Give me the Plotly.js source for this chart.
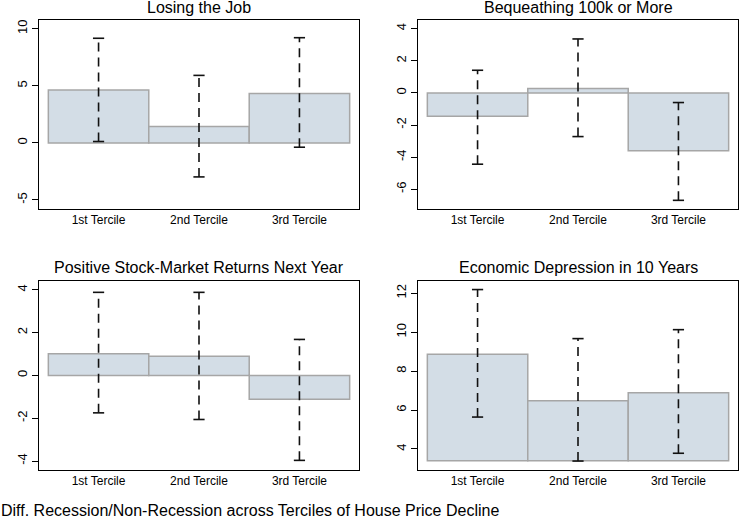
<!DOCTYPE html>
<html>
<head>
<meta charset="utf-8">
<script src="https://cdn.plot.ly/plotly-3.0.1.min.js"></script>
<style>html,body{margin:0;padding:0;background:#fff;}#chart{width:739px;height:520px;}</style>
</head>
<body>
<div id="chart"></div>
<script>
// ---- data ----
const categories = ['1st Tercile', '2nd Tercile', '3rd Tercile'];
const catPos = [0, 1, 2];

const panelTitles = ['Losing the Job', 'Bequeathing 100k or More',
                     'Positive Stock-Market Returns Next Year', 'Economic Depression in 10 Years'];

const jobMean = [4.62, 1.44, 4.33];
const jobLow  = [0.12, -2.98, -0.38];
const jobHigh = [9.16, 5.91, 9.21];

const bequestMean = [-1.45, 0.27, -3.61];
const bequestLow  = [-4.44, -2.72, -6.69];
const bequestHigh = [1.41, 3.36, -0.60];

const stockMean = [1.01, 0.89, -1.12];
const stockLow  = [-1.75, -2.06, -3.97];
const stockHigh = [3.88, 3.88, 1.68];

const depressionMean = [8.87, 6.48, 6.89];
const depressionLow  = [5.64, 3.38, 3.78];
const depressionHigh = [12.19, 9.67, 10.13];
const depressionBase = 3.4;

const yTicks1 = [-5, 0, 5, 10];
const yTicks2 = [-6, -4, -2, 0, 2, 4];
const yTicks3 = [-4, -2, 0, 2, 4];
const yTicks4 = [4, 6, 8, 10, 12];

const footerText = 'Diff. Recession/Non-Recession across Terciles of House Price Decline';

// ---- layout helpers ----
const W = 739, H = 520;
const FONT = 'Liberation Sans, Arial, sans-serif';
const BAR_FILL = '#d3dde6';
const BAR_LINE = '#a6a6a6';
const ERR_COLOR = '#111111';

const panels = [
  {mean: jobMean, low: jobLow, high: jobHigh, base: 0, ticks: yTicks1, yr: [-5.79, 10.76], px: [39, 359], py: [20, 209]},
  {mean: bequestMean, low: bequestLow, high: bequestHigh, base: 0, ticks: yTicks2, yr: [-7.23, 4.54], px: [418, 738], py: [20, 209]},
  {mean: stockMean, low: stockLow, high: stockHigh, base: 0, ticks: yTicks3, yr: [-4.42, 4.41], px: [39, 359], py: [281, 470]},
  {mean: depressionMean, low: depressionLow, high: depressionHigh, base: depressionBase, ticks: yTicks4, yr: [2.92, 12.63], px: [418, 738], py: [281, 470]}
];
const titleY = [8, 8, 267, 267];

const traces = [];
const layout = {
  width: W, height: H,
  margin: {l: 0, r: 0, t: 0, b: 0},
  paper_bgcolor: '#ffffff', plot_bgcolor: '#ffffff',
  showlegend: false,
  font: {family: FONT, color: '#000000'},
  annotations: []
};

panels.forEach((p, i) => {
  const n = i + 1;
  const xa = 'x' + (n === 1 ? '' : n), ya = 'y' + (n === 1 ? '' : n);
  const xk = 'xaxis' + (n === 1 ? '' : n), yk = 'yaxis' + (n === 1 ? '' : n);

  traces.push({
    type: 'bar', x: catPos, y: p.mean.map(v => v - p.base), base: p.base,
    width: 1, xaxis: xa, yaxis: ya,
    marker: {color: BAR_FILL, line: {color: BAR_LINE, width: 1.5}},
    hoverinfo: 'skip'
  });

  const ex = [], ey = [];
  catPos.forEach((c, k) => { ex.push(c, c, null); ey.push(p.low[k], p.high[k], null); });
  traces.push({
    type: 'scatter', mode: 'lines', x: ex, y: ey, xaxis: xa, yaxis: ya,
    line: {color: ERR_COLOR, width: 1.6, dash: '9px,6px'}, hoverinfo: 'skip'
  });
  traces.push({
    type: 'scatter', mode: 'markers', x: catPos.concat(catPos), y: p.low.concat(p.high),
    xaxis: xa, yaxis: ya,
    marker: {symbol: 'line-ew', size: 8, line: {color: ERR_COLOR, width: 1.6}},
    hoverinfo: 'skip'
  });

  layout[xk] = {
    domain: [p.px[0] / W, p.px[1] / W], anchor: ya,
    range: [-0.593, 2.593], tickvals: catPos, ticktext: categories,
    ticks: '', showgrid: false, zeroline: false,
    showline: true, mirror: true, linecolor: '#000', linewidth: 1,
    tickfont: {size: 12, family: FONT, color: '#000'}, fixedrange: true
  };
  layout[yk] = {
    domain: [1 - p.py[1] / H, 1 - p.py[0] / H], anchor: xa,
    range: p.yr, tickvals: p.ticks, ticktext: p.ticks.map(String),
    ticks: 'outside', ticklen: 6, tickcolor: '#000', tickwidth: 1,
    tickangle: -90, showgrid: false, zeroline: false,
    showline: true, mirror: true, linecolor: '#000', linewidth: 1,
    tickfont: {size: 13, family: FONT, color: '#000'}, fixedrange: true
  };

  layout.annotations.push({
    text: panelTitles[i], xref: 'paper', yref: 'paper',
    x: (p.px[0] + p.px[1]) / 2 / W, y: 1 - titleY[i] / H,
    xanchor: 'center', yanchor: 'middle', showarrow: false,
    font: {size: 16, family: FONT, color: '#000'}
  });
});

layout.annotations.push({
  text: footerText, xref: 'paper', yref: 'paper',
  x: 0, y: 0, xanchor: 'left', yanchor: 'bottom', showarrow: false, borderpad: 0,
  font: {size: 16, family: FONT, color: '#000'}
});

Plotly.newPlot('chart', traces, layout, {displayModeBar: false, staticPlot: true});
</script>
</body>
</html>
